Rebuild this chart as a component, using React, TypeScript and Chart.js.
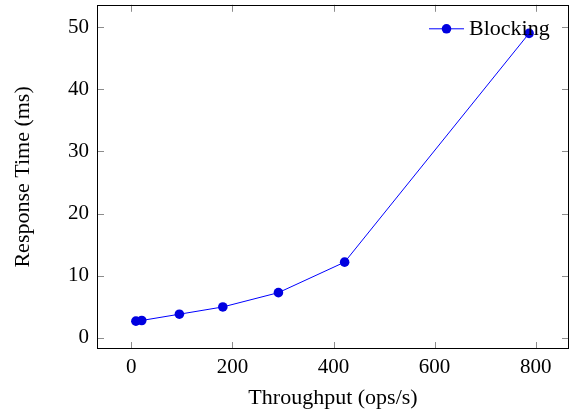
import React, { useEffect, useRef } from "react";
import { Chart, registerables } from "chart.js";

Chart.register(...registerables);

const throughput = [9, 20.5, 95, 181, 291, 422, 787];
const responseTime = [2.68, 2.79, 3.8, 4.97, 7.27, 12.18, 49.0];
const xTicks = [0, 200, 400, 600, 800];
const yTicks = [0, 10, 20, 30, 40, 50];
const seriesLabel = "Blocking";
const xTitle = "Throughput (ops/s)";
const yTitle = "Response Time (ms)";

const FONT = "'Liberation Serif', serif";

const frameAndTicks = {
  id: "frameAndTicks",
  afterDraw(chart: any) {
    const { ctx, chartArea } = chart;
    const { left, right, top, bottom } = chartArea;
    const xs = chart.scales.x;
    const ys = chart.scales.y;
    const len = 7;
    ctx.save();
    ctx.strokeStyle = "#8c8c8c";
    ctx.lineWidth = 1;
    ctx.beginPath();
    xTicks.forEach((v) => {
      const px = Math.round(xs.getPixelForValue(v)) + 0.5;
      ctx.moveTo(px, bottom);
      ctx.lineTo(px, bottom - len);
      ctx.moveTo(px, top);
      ctx.lineTo(px, top + len);
    });
    yTicks.forEach((v) => {
      const py = Math.round(ys.getPixelForValue(v)) + 0.5;
      ctx.moveTo(left, py);
      ctx.lineTo(left + len, py);
      ctx.moveTo(right, py);
      ctx.lineTo(right - len, py);
    });
    ctx.stroke();
    ctx.strokeStyle = "#000";
    ctx.strokeRect(Math.round(left) + 0.5, Math.round(top) + 0.5, Math.round(right - left) - 1, Math.round(bottom - top) - 1);
    // legend
    const ds = chart.data.datasets[0];
    const ly = top + 24;
    const lx0 = right - 140;
    ctx.strokeStyle = ds.borderColor;
    ctx.beginPath();
    ctx.moveTo(lx0, ly);
    ctx.lineTo(lx0 + 35, ly);
    ctx.stroke();
    ctx.fillStyle = ds.pointBackgroundColor;
    ctx.beginPath();
    ctx.arc(lx0 + 17.5, ly, 4.8, 0, Math.PI * 2);
    ctx.fill();
    ctx.fillStyle = "#000";
    ctx.font = `22px ${FONT}`;
    ctx.textBaseline = "middle";
    ctx.textAlign = "left";
    ctx.fillText(ds.label, lx0 + 40, ly);
    ctx.restore();
  },
};

export default function App() {
  const ref = useRef<HTMLCanvasElement>(null);
  useEffect(() => {
    const chart = new Chart(ref.current!, {
      type: "line",
      data: {
        datasets: [
          {
            label: seriesLabel,
            data: throughput.map((x, i) => ({ x, y: responseTime[i] })),
            borderColor: "#0000ff",
            borderWidth: 1,
            pointBackgroundColor: "#0000e0",
            pointBorderColor: "#0000e0",
            pointRadius: 4.8,
            pointBorderWidth: 0,
            tension: 0,
          },
        ],
      },
      plugins: [frameAndTicks],
      options: {
        animation: false,
        responsive: false,
        maintainAspectRatio: false,
        layout: { padding: { top: 3, right: 6, left: 0, bottom: 0 } },
        plugins: { legend: { display: false }, tooltip: { enabled: false } },
        scales: {
          x: {
            type: "linear",
            min: -68,
            max: 866,
            afterBuildTicks: (s: any) => {
              s.ticks = xTicks.map((v) => ({ value: v }));
            },
            afterFit: (s: any) => {
              s.height = 66;
              s.paddingLeft = 0;
              s.paddingRight = 0;
            },
            grid: { display: false, drawTicks: false },
            border: { display: false },
            ticks: { color: "#000", font: { family: FONT, size: 21 }, padding: 6, maxRotation: 0 },
            title: { display: true, text: xTitle, color: "#000", font: { family: FONT, size: 22 }, padding: { top: 2, bottom: 4 } },
          },
          y: {
            type: "linear",
            min: -1.8,
            max: 53.6,
            afterBuildTicks: (s: any) => {
              s.ticks = yTicks.map((v) => ({ value: v }));
            },
            afterFit: (s: any) => {
              s.width = 97;
              s.paddingTop = 0;
              s.paddingBottom = 0;
            },
            grid: { display: false, drawTicks: false },
            border: { display: false },
            ticks: { color: "#000", font: { family: FONT, size: 21 }, padding: 8 },
            title: { display: true, text: yTitle, color: "#000", font: { family: FONT, size: 22 }, padding: { top: 10, bottom: 4 } },
          },
        },
      },
    });
    return () => chart.destroy();
  }, []);
  return (
    <div style={{ position: "fixed", left: 0, top: 0, width: 575, height: 415, background: "#fff" }}>
      <canvas ref={ref} width={575} height={415} style={{ width: 575, height: 415 }} />
    </div>
  );
}
